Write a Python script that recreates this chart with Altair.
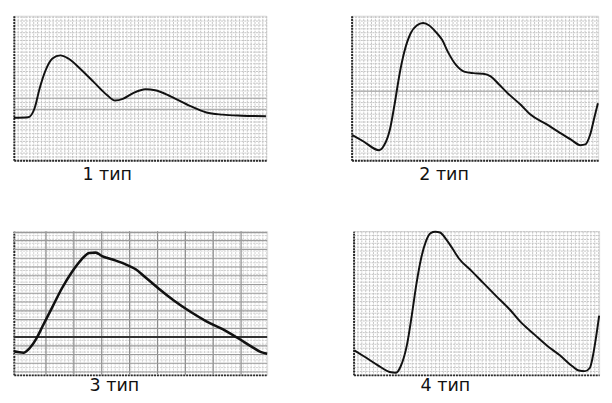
import altair as alt
import pandas as pd

# ---- curve data (normalised 0-100 in each panel) ----
p1_x = [0, 5.7, 8.3, 10.2, 12.7, 15.3, 18.4, 21.6, 26.7, 31.8, 36.9, 40.1, 43.2, 47.1, 52.2, 56.0, 62.3, 70.0, 76.3, 82.7, 90.3, 99.9]
p1_y = [29.4, 29.8, 36.4, 49.5, 62.7, 70.4, 72.6, 70.4, 62.7, 53.9, 45.2, 41.4, 42.5, 46.3, 49.1, 48.5, 44.1, 37.5, 33.1, 31.6, 30.9, 30.5]

p2_x = [0.3, 4.7, 11.1, 13.0, 15.6, 17.5, 19.4, 21.3, 23.9, 26.4, 29.0, 31.5, 34.1, 36.7, 39.2, 42.4, 45.6, 49.4, 53.3, 56.4, 59.7, 63.5, 68.6, 72.4, 78.8, 83.9, 89.0, 92.8, 94.8, 96.7, 98.6, 99.9]
p2_y = [17.5, 13.2, 7.0, 9.9, 21.9, 39.5, 59.2, 74.5, 87.7, 93.2, 94.9, 93.2, 88.8, 83.3, 74.5, 65.8, 61.4, 60.3, 59.9, 58.1, 52.6, 46.1, 38.4, 31.8, 25.2, 19.7, 14.3, 10.5, 11.0, 17.5, 30.7, 39.5]

p3_x = [0, 3.8, 6.3, 8.9, 11.4, 15.2, 19.0, 22.8, 26.6, 29.8, 32.3, 34.8, 39.3, 44.3, 48.1, 51.9, 57.0, 63.3, 69.7, 76.0, 82.4, 88.7, 93.8, 97.6, 100]
p3_y = [16.4, 15.4, 18.7, 25.3, 34.0, 47.2, 60.3, 71.3, 80.1, 84.9, 85.1, 82.7, 80.1, 76.8, 73.5, 68.0, 60.3, 51.6, 43.9, 37.3, 31.8, 25.3, 19.7, 15.8, 14.7]

p4_x = [0.4, 4.5, 9.6, 14.7, 17.3, 19.2, 21.8, 23.7, 25.6, 27.5, 29.5, 31.4, 33.3, 35.2, 37.8, 40.4, 42.9, 48.1, 53.2, 58.3, 63.5, 68.6, 73.7, 78.8, 84.0, 89.1, 91.7, 94.2, 96.2, 97.4, 98.7, 100]
p4_y = [17.0, 12.6, 7.0, 2.0, 1.5, 6.0, 21.4, 41.3, 63.3, 81.0, 93.1, 98.7, 99.6, 99.1, 94.2, 87.6, 81.0, 72.2, 63.3, 54.5, 45.7, 35.8, 28.0, 20.3, 13.6, 6.0, 3.0, 2.6, 4.8, 12.6, 25.8, 41.3]

labels = ["1 тип", "2 тип", "3 тип", "4 тип"]
label_x = [37.0, 37.5, 39.7, 37.4]
label_y = [-10.1, -10.1, -8.1, -8.1]

# reference lines
p1_lines = [35.3, 43.0]
p2_lines = [47.8]
p3_bold = [26.3]
p3_hgrid = [2.0, 8.1, 14.2, 20.2, 32.4, 38.5, 44.6, 50.7, 56.8, 62.9, 69.0, 75.1, 81.2, 87.3, 93.4, 99.0]
p3_vgrid = [12.7, 23.7, 34.7, 45.7, 56.7, 67.7, 78.7, 89.7]


def frange(a, b, s):
    out, v = [], a
    while v <= b + 1e-9:
        out.append(round(v, 4))
        v += s
    return out


def panel(xs, ys, w, h, i, fine=True, lines=None, lines_color="#9a9a9a",
          vgrid=None, hgrid=None, bold=None, lw=2.0):
    xsc = alt.Scale(domain=[0, 100], nice=False, zero=False)
    ysc = alt.Scale(domain=[0, 100], nice=False, zero=False)
    gx = frange(0, 100, 400.0 / w)
    gy = frange(0, 100, 400.0 / h)
    gcol = "#c2c2c2" if fine else "#d0d0d0"
    common = dict(labels=False, ticks=False, title=None, grid=True,
                  gridColor=gcol, gridDash=[2, 1], gridWidth=1,
                  domainColor="#2a2a2a", domainWidth=2, domainDash=[2, 1])
    xax = alt.Axis(values=gx, **common)
    yax = alt.Axis(values=gy, **common)

    def X(f):
        return alt.X(f, scale=xsc, axis=xax)

    def Y(f):
        return alt.Y(f, scale=ysc, axis=yax)

    curve = pd.DataFrame({"x": xs, "y": ys})
    base = alt.Chart(curve).mark_line(color="#111", strokeWidth=lw,
                                      interpolate="monotone", clip=False).encode(
        x=X("x:Q"), y=Y("y:Q"))
    layers = []
    if lines:
        layers.append(alt.Chart(pd.DataFrame({"v": lines})).mark_rule(
            color=lines_color, strokeWidth=1).encode(y=Y("v:Q")))
    if vgrid:
        layers.append(alt.Chart(pd.DataFrame({"v": vgrid})).mark_rule(
            color="#8a8a8a", strokeWidth=1.2).encode(x=X("v:Q")))
    if hgrid:
        layers.append(alt.Chart(pd.DataFrame({"v": hgrid})).mark_rule(
            color="#9a9a9a", strokeWidth=1.2).encode(y=Y("v:Q")))
    if bold:
        layers.append(alt.Chart(pd.DataFrame({"v": bold})).mark_rule(
            color="#333", strokeWidth=2).encode(y=Y("v:Q")))
    lab = pd.DataFrame({"lx": [label_x[i]], "ly": [label_y[i]], "t": [labels[i]]})
    text = alt.Chart(lab).mark_text(font="DejaVu Sans", fontSize=18, color="#111",
                                    align="center", baseline="middle").encode(
        x=X("lx:Q"), y=Y("ly:Q"), text="t:N")
    return alt.layer(*layers, base, text).properties(width=w, height=h)


c1 = panel(p1_x, p1_y, 260, 149, 0, lines=p1_lines)
c2 = panel(p2_x, p2_y, 254, 149, 1, lines=p2_lines)
c3 = panel(p3_x, p3_y, 261, 148, 2, fine=False, vgrid=p3_vgrid, hgrid=p3_hgrid,
           bold=p3_bold, lw=2.6)
c4 = panel(p4_x, p4_y, 253, 148, 3)

row1 = alt.hconcat(c1, c2, spacing=79)
row2 = alt.hconcat(c3, c4, spacing=79)

chart = alt.vconcat(row1, row2, spacing=44).properties(
    padding={"left": 0, "top": 1, "right": 0, "bottom": 0}
).configure_view(stroke=None).configure(background="white")

chart.save("out.html", embed_options={"renderer": "svg", "actions": False})
